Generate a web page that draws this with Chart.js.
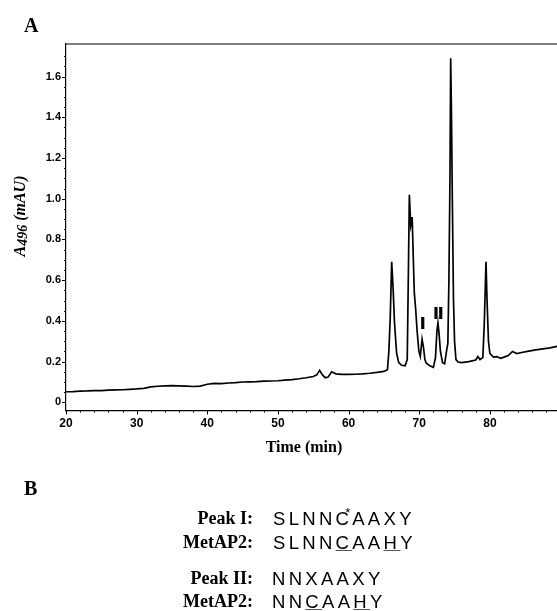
<!DOCTYPE html>
<html>
<head>
<meta charset="utf-8">
<script src="https://cdn.jsdelivr.net/npm/chart.js@4.4.1/dist/chart.umd.min.js"></script>
<style>
  body { margin: 0; background: #fff; }
  #wrap { position: relative; width: 557px; height: 611px; overflow: hidden; }
  #chart { position: absolute; left: 0; top: 0; }
  .panel { position: absolute; font: bold 20px "Liberation Serif", serif; color: #000; }
  .lbl { position: absolute; width: 200px; left: 53px; text-align: right;
         font: bold 18px/18px "Liberation Serif", serif; color: #000; }
  .seq { position: absolute; font: 18.5px/18px "Liberation Sans", Arial, sans-serif;
         letter-spacing: 3.3px; color: #000; }
  .seq u { text-decoration-thickness: 1px; text-underline-offset: 1px; text-decoration-color: #555; }
  .star { display: inline-block; width: 0; position: relative; left: -7px; top: -8px;
          font-size: 13px; letter-spacing: 0; }
</style>
</head>
<body>
<div id="wrap">
  <canvas id="chart" width="557" height="611"></canvas>
  <div class="panel" style="left:24px; top:14px;">A</div>
  <div class="panel" style="left:24px; top:477px;">B</div>

  <div class="lbl" style="top:509px;">Peak I:</div>
  <div class="seq" style="left:273px; top:510px;">SLNNC<span class="star">*</span>AAXY</div>
  <div class="lbl" style="top:533px;">MetAP2:</div>
  <div class="seq" style="left:273px; top:534px;">SLNN<u>C</u>AA<u>H</u>Y</div>

  <div class="lbl" style="top:569px;">Peak II:</div>
  <div class="seq" style="left:272px; top:570px;">NNXAAXY</div>
  <div class="lbl" style="top:592px;">MetAP2:</div>
  <div class="seq" style="left:272px; top:593px;">NN<u>C</u>AA<u>H</u>Y</div>
</div>

<script>
// chromatogram: time (min) and A496 (mAU)
const timeMin = [
  20, 21, 22, 23, 24, 25, 26, 27, 28, 29, 30, 31, 32, 33, 34, 35, 36, 37, 38, 39,
  40, 41, 42, 43, 44, 45, 46, 47, 48, 49, 50, 51, 52, 53, 54, 55, 55.5, 55.9, 56.3, 56.7,
  57.1, 57.6, 58.2, 59, 60, 61, 62, 63, 64, 65, 65.5, 65.7, 65.9, 66.1, 66.3, 66.5, 66.8, 67.1, 67.5, 68.0,
  68.3, 68.45, 68.6, 68.8, 69.0, 69.15, 69.3, 69.5, 69.7, 69.95, 70.15, 70.4, 70.6, 70.8, 71.0, 71.5, 72.0, 72.3, 72.5, 72.65,
  72.8, 73.0, 73.3, 73.6, 73.9, 74.05, 74.2, 74.35, 74.45, 74.55, 74.7, 74.85, 75.0, 75.2, 75.5, 76, 77, 78, 78.3, 78.6,
  79.0, 79.2, 79.45, 79.6, 79.8, 80.0, 80.5, 81, 81.5, 82, 82.6, 83.2, 83.8, 84.5, 85.5, 86.5, 87.5, 88.5, 89.5
];
const absorbance = [
  0.052, 0.053, 0.055, 0.056, 0.058, 0.058, 0.060, 0.061, 0.062, 0.064, 0.066, 0.069, 0.076, 0.079, 0.081, 0.082, 0.081, 0.080, 0.078, 0.080,
  0.089, 0.093, 0.092, 0.095, 0.097, 0.100, 0.101, 0.102, 0.104, 0.105, 0.106, 0.109, 0.112, 0.116, 0.121, 0.127, 0.135, 0.157, 0.135, 0.121,
  0.124, 0.150, 0.140, 0.137, 0.137, 0.138, 0.140, 0.143, 0.147, 0.152, 0.160, 0.250, 0.420, 0.690, 0.560, 0.390, 0.240, 0.195, 0.182, 0.180,
  0.210, 0.600, 1.020, 0.870, 0.910, 0.720, 0.540, 0.455, 0.350, 0.250, 0.225, 0.310, 0.270, 0.210, 0.192, 0.180, 0.172, 0.220, 0.350, 0.390,
  0.340, 0.250, 0.195, 0.190, 0.260, 0.290, 0.600, 1.100, 1.690, 1.450, 0.950, 0.500, 0.300, 0.210, 0.198, 0.195, 0.200, 0.208, 0.225, 0.210,
  0.220, 0.380, 0.690, 0.500, 0.300, 0.240, 0.222, 0.225, 0.216, 0.222, 0.230, 0.250, 0.240, 0.245, 0.252, 0.258, 0.263, 0.268, 0.275
];
const xTicks = [20, 30, 40, 50, 60, 70, 80];
const yTicks = [0, 0.2, 0.4, 0.6, 0.8, 1.0, 1.2, 1.4, 1.6];
const yTickLabels = ['0', '0.2', '0.4', '0.6', '0.8', '1.0', '1.2', '1.4', '1.6'];
const peakMarks = [
  { label: 'I', x: 70.45, y: 0.385 },
  { label: 'II', x: 72.65, y: 0.43 }
];

// frame, tick marks, axis titles and the I / II peak labels
const decorPlugin = {
  id: 'decor',
  afterDraw(chart) {
    const c = chart.ctx;
    const a = chart.chartArea;
    const xs = chart.scales.x, ys = chart.scales.y;
    c.save();
    c.strokeStyle = '#000';
    c.fillStyle = '#000';
    c.lineWidth = 1.2;
    // top frame line
    c.beginPath();
    c.moveTo(a.left, a.top);
    c.lineTo(a.right, a.top);
    c.stroke();

    // y ticks: major at labels, minor every 0.05
    c.lineWidth = 1;
    c.beginPath();
    for (let v = 0; v <= 1.75; v += 0.05) {
      const py = Math.round(ys.getPixelForValue(v)) + 0.5;
      const major = yTicks.some(t => Math.abs(t - v) < 1e-6);
      c.moveTo(a.left - (major ? 4 : 2), py);
      c.lineTo(a.left, py);
    }
    // x ticks: major every 10, minor every 2
    for (let v = 20; v <= 89; v += 2) {
      const px = Math.round(xs.getPixelForValue(v)) + 0.5;
      const major = xTicks.includes(v);
      c.moveTo(px, a.bottom);
      c.lineTo(px, a.bottom + (major ? 4 : 2));
    }
    c.stroke();

    // x axis title
    c.font = 'bold 16px "Liberation Serif", serif';
    c.textAlign = 'center';
    c.textBaseline = 'middle';
    c.fillText('Time (min)', 304, 448);

    // y axis title with subscript
    c.translate(20, 216);
    c.rotate(-Math.PI / 2);
    const big = 'italic bold 16px "Liberation Serif", serif';
    const small = 'italic bold 14px "Liberation Serif", serif';
    const parts = [['A', big, 0], ['496', small, 2], [' (mAU)', big, 0]];
    let total = 0;
    parts.forEach(p => { c.font = p[1]; total += c.measureText(p[0]).width; });
    let x0 = -total / 2;
    c.textAlign = 'left';
    c.textBaseline = 'alphabetic';
    parts.forEach(p => {
      c.font = p[1];
      c.fillText(p[0], x0, 5 + p[2]);
      x0 += c.measureText(p[0]).width;
    });
    c.restore();

    // peak labels (drawn as heavy bars like the original)
    c.save();
    c.font = 'bold 17px "Liberation Sans", sans-serif';
    c.textAlign = 'center';
    c.textBaseline = 'middle';
    c.fillStyle = '#000';
    peakMarks.forEach(m => {
      const px = xs.getPixelForValue(m.x), py = ys.getPixelForValue(m.y);
      c.fillText(m.label, px, py);
      c.fillText(m.label, px + 0.8, py);
    });
    c.restore();
  }
};

const ctx = document.getElementById('chart').getContext('2d');
const chromChart = new Chart(ctx, {
  type: 'line',
  data: {
    datasets: [{
      data: timeMin.map((t, i) => ({ x: t, y: absorbance[i] })),
      borderColor: '#000',
      borderWidth: 1.7,
      pointRadius: 0,
      tension: 0,
      fill: false
    }]
  },
  options: {
    responsive: false,
    animation: false,
    layout: { padding: { top: 44, left: 0, right: 0, bottom: 0 } },
    plugins: { legend: { display: false }, tooltip: { enabled: false } },
    scales: {
      x: {
        type: 'linear',
        min: 20,
        max: 89.5,
        afterFit: s => { s.height = 611 - 410.5; },
        afterBuildTicks: s => { s.ticks = xTicks.map(v => ({ value: v })); },
        grid: { display: false, drawTicks: false },
        border: { display: true, color: '#000', width: 1.2 },
        ticks: {
          padding: 6,
          color: '#000',
          maxRotation: 0,
          autoSkip: false,
          font: { family: 'Liberation Sans', weight: 'bold', size: 12 }
        }
      },
      y: {
        min: -0.04,
        max: 1.76,
        afterFit: s => { s.width = 66; },
        afterBuildTicks: s => { s.ticks = yTicks.map(v => ({ value: v })); },
        grid: { display: false, drawTicks: false },
        border: { display: true, color: '#000', width: 1.2 },
        ticks: {
          padding: 5,
          color: '#000',
          autoSkip: false,
          font: { family: 'Liberation Sans', weight: 'bold', size: 11 },
          callback: (v, i) => yTickLabels[i]
        }
      }
    }
  },
  plugins: [decorPlugin]
});
</script>
</body>
</html>
